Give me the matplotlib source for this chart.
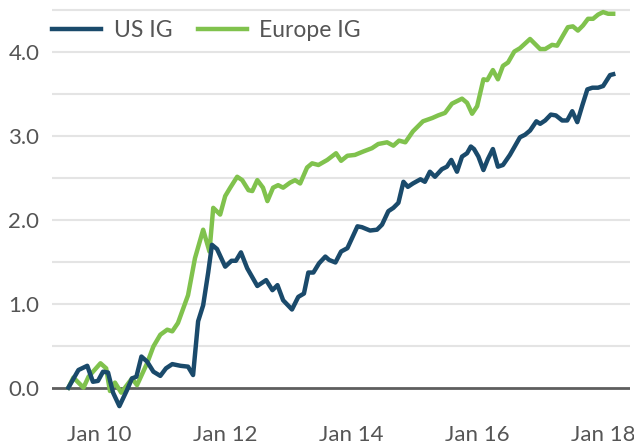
import matplotlib
matplotlib.use("Agg")
import matplotlib.pyplot as plt
from matplotlib.ticker import FixedLocator, FuncFormatter

# cumulative excess return (x in decimal years)
us_t = [2009.51, 2009.67, 2009.81, 2009.90, 2009.98, 2010.06, 2010.14, 2010.22,
        2010.32, 2010.44, 2010.52, 2010.59, 2010.67, 2010.76, 2010.86, 2010.97,
        2011.06, 2011.16, 2011.29, 2011.41, 2011.49, 2011.57, 2011.65, 2011.73,
        2011.79, 2011.87, 2012.00, 2012.10, 2012.17, 2012.25, 2012.35, 2012.51,
        2012.65, 2012.75, 2012.83, 2012.92, 2013.06, 2013.16, 2013.25, 2013.32,
        2013.40, 2013.49, 2013.59, 2013.65, 2013.75, 2013.84, 2013.94, 2014.10,
        2014.17, 2014.30, 2014.41, 2014.49, 2014.59, 2014.67, 2014.75, 2014.83,
        2014.90, 2014.98, 2015.10, 2015.17, 2015.25, 2015.33, 2015.44, 2015.52,
        2015.59, 2015.68, 2015.76, 2015.84, 2015.90, 2015.95, 2016.02, 2016.10,
        2016.17, 2016.25, 2016.33, 2016.41, 2016.52, 2016.68, 2016.76, 2016.84,
        2016.94, 2017.00, 2017.08, 2017.17, 2017.25, 2017.35, 2017.43, 2017.51,
        2017.59, 2017.67, 2017.75, 2017.83, 2017.92, 2018.00, 2018.11, 2018.16]
us_ig = [0.00, 0.21, 0.26, 0.07, 0.08, 0.19, 0.18, -0.06,
         -0.22, -0.03, 0.11, 0.13, 0.37, 0.31, 0.19, 0.14,
         0.23, 0.28, 0.26, 0.25, 0.15, 0.79, 0.98, 1.37,
         1.70, 1.65, 1.44, 1.51, 1.51, 1.61, 1.42, 1.21,
         1.28, 1.16, 1.22, 1.04, 0.93, 1.08, 1.12, 1.37,
         1.37, 1.48, 1.56, 1.52, 1.49, 1.62, 1.66, 1.92,
         1.91, 1.87, 1.88, 1.94, 2.10, 2.14, 2.20, 2.45,
         2.39, 2.43, 2.48, 2.45, 2.57, 2.51, 2.60, 2.63,
         2.71, 2.57, 2.75, 2.79, 2.87, 2.84, 2.75, 2.59,
         2.72, 2.84, 2.63, 2.65, 2.77, 2.98, 3.01, 3.06,
         3.17, 3.14, 3.18, 3.25, 3.24, 3.18, 3.18, 3.29,
         3.16, 3.36, 3.55, 3.57, 3.57, 3.59, 3.72, 3.73]

eu_t = [2009.51, 2009.59, 2009.75, 2009.83, 2010.02, 2010.11, 2010.17, 2010.25,
        2010.35, 2010.52, 2010.60, 2010.76, 2010.86, 2010.97, 2011.08, 2011.16,
        2011.25, 2011.41, 2011.52, 2011.65, 2011.75, 2011.81, 2011.92, 2012.00,
        2012.08, 2012.19, 2012.27, 2012.37, 2012.43, 2012.51, 2012.60, 2012.67,
        2012.76, 2012.84, 2012.92, 2013.03, 2013.11, 2013.19, 2013.30, 2013.38,
        2013.48, 2013.62, 2013.76, 2013.84, 2013.94, 2014.06, 2014.19, 2014.33,
        2014.43, 2014.57, 2014.67, 2014.76, 2014.86, 2014.98, 2015.14, 2015.29,
        2015.38, 2015.49, 2015.60, 2015.76, 2015.84, 2015.92, 2016.00, 2016.10,
        2016.16, 2016.25, 2016.33, 2016.41, 2016.49, 2016.59, 2016.68, 2016.84,
        2017.00, 2017.08, 2017.19, 2017.27, 2017.37, 2017.44, 2017.52, 2017.60,
        2017.68, 2017.76, 2017.84, 2017.92, 2018.00, 2018.08, 2018.16]
europe_ig = [0.00, 0.12, 0.00, 0.13, 0.29, 0.23, -0.04, 0.06,
             -0.06, 0.11, 0.03, 0.29, 0.49, 0.63, 0.69, 0.67,
             0.77, 1.10, 1.54, 1.88, 1.62, 2.14, 2.06, 2.28,
             2.38, 2.51, 2.47, 2.35, 2.34, 2.47, 2.38, 2.22,
             2.38, 2.41, 2.38, 2.44, 2.47, 2.43, 2.62, 2.67,
             2.65, 2.71, 2.79, 2.70, 2.76, 2.77, 2.81, 2.85,
             2.90, 2.92, 2.88, 2.94, 2.92, 3.05, 3.17, 3.21,
             3.24, 3.27, 3.38, 3.44, 3.39, 3.26, 3.35, 3.67,
             3.66, 3.78, 3.67, 3.83, 3.87, 4.00, 4.04, 4.15,
             4.03, 4.03, 4.08, 4.07, 4.20, 4.29, 4.30, 4.25,
             4.31, 4.39, 4.39, 4.44, 4.47, 4.45, 4.45]

x_ticks = [2010, 2012, 2014, 2016, 2018]
y_ticks = [0, 1, 2, 3, 4]
grid_lines = [0.5, 1.0, 1.5, 2.0, 2.5, 3.0, 3.5, 4.0, 4.5]

plt.rcParams['font.family'] = ['Lato', 'DejaVu Sans']
text_grey = '#555555'

fig = plt.figure(figsize=(6.34, 4.47), dpi=100)
ax = fig.add_axes([0.082, 0.067, 0.912, 0.921])

for g in grid_lines:
    ax.axhline(g, color='#e4e4e4', lw=1.5, zorder=0)
ax.axhline(0, color='#5e5e5e', lw=2, zorder=1)

ax.plot(us_t, us_ig, color='#1a4a6b', lw=3.2, label='US IG', zorder=3)
ax.plot(eu_t, europe_ig, color='#80c24d', lw=3.2, label='Europe IG', zorder=2)

ax.set_xlim(2009.25, 2018.43)
ax.set_ylim(-0.35, 4.55)
ax.xaxis.set_major_locator(FixedLocator(x_ticks))
ax.xaxis.set_major_formatter(FuncFormatter(lambda v, p: 'Jan %02d' % (int(round(v)) % 100)))
ax.yaxis.set_major_locator(FixedLocator(y_ticks))
ax.yaxis.set_major_formatter(FuncFormatter(lambda v, p: '%.1f' % v))
ax.tick_params(length=0, labelsize=16, colors=text_grey)
ax.tick_params(axis='y', pad=9)
ax.tick_params(axis='x', pad=6)
for s in ax.spines.values():
    s.set_visible(False)

leg = ax.legend(loc='upper left', ncol=2, frameon=False, fontsize=16.5,
                handlelength=2.15, handletextpad=0.55, columnspacing=1.1,
                borderpad=0, borderaxespad=0, bbox_to_anchor=(0.0, 0.965))
for t in leg.get_texts():
    t.set_color(text_grey)

fig.savefig('out.png', dpi=100)
